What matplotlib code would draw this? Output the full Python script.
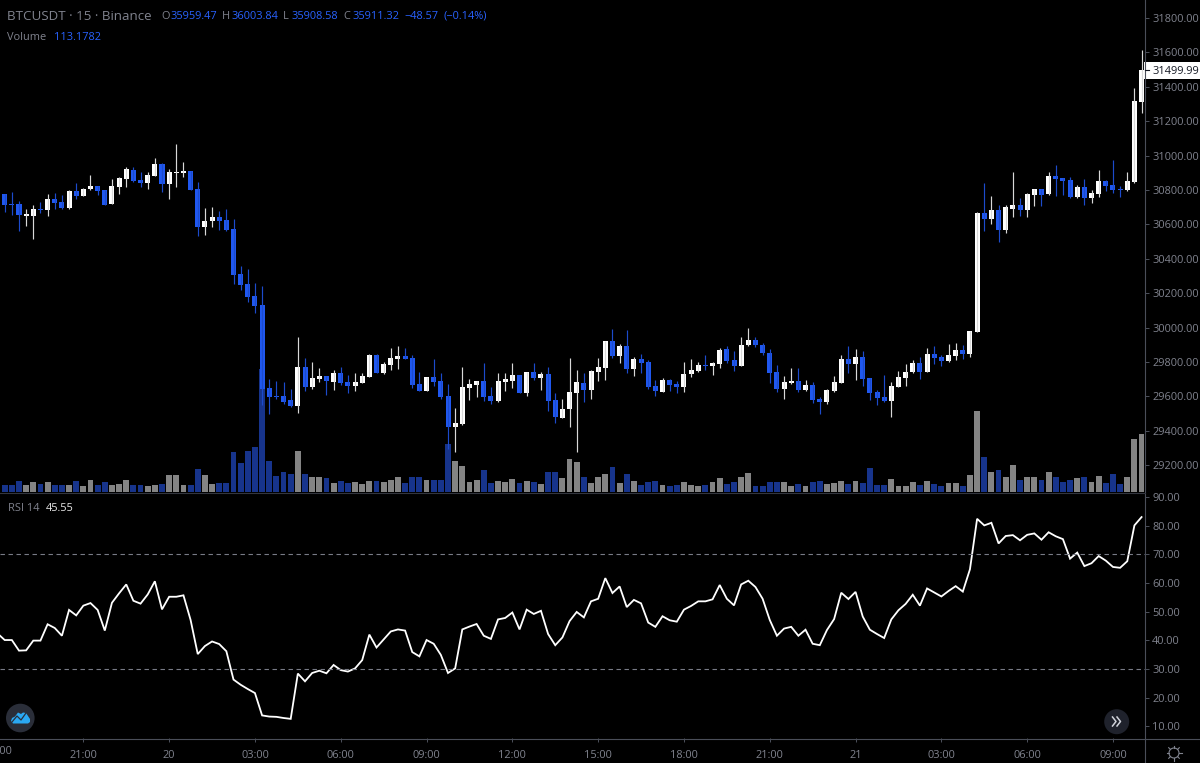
import numpy as np
import matplotlib

matplotlib.use("Agg")
import matplotlib.pyplot as plt
from matplotlib.patches import Circle, Polygon, Rectangle

W, H = 1200, 763
BG = "#000000"
AXIS = "#4a4e59"
TEXT = "#80838e"
BLUE = "#2058f0"
BLUE_TXT = "#2962ff"
VOL_BLUE = "#17348c"
VOL_GREY = "#848484"
plt.rcParams["font.family"] = ["Open Sans", "DejaVu Sans"]

# 15 minute bars
opens = [
    30777, 30720, 30719, 30649, 30651, 30690, 30684, 30746, 30730, 30693,
    30794, 30767, 30804, 30825, 30798, 30721, 30819, 30866, 30918, 30856,
    30841, 30883, 30951, 30835, 30897, 30899, 30909, 30804, 30585, 30620,
    30641, 30626, 30573, 30312, 30253, 30184, 30131, 29649, 29602, 29602,
    29577, 29544, 29771, 29655, 29703, 29719, 29686, 29734, 29682, 29660,
    29678, 29713, 29839, 29734, 29781, 29817, 29835, 29823, 29672, 29633,
    29713, 29688, 29602, 29420, 29440, 29651, 29666, 29688, 29602, 29571,
    29682, 29691, 29724, 29620, 29740, 29707, 29728, 29577, 29476, 29525,
    29620, 29676, 29639, 29744, 29765, 29922, 29835, 29891, 29759, 29817,
    29798, 29660, 29627, 29697, 29672, 29655, 29728, 29750, 29782, 29777,
    29786, 29876, 29812, 29777, 29897, 29928, 29901, 29854, 29740, 29645,
    29676, 29688, 29635, 29666, 29583, 29565, 29629, 29676, 29817, 29786,
    29829, 29707, 29624, 29596, 29571, 29655, 29707, 29740, 29796, 29744,
    29845, 29829, 29808, 29835, 29870, 29845, 29974, 30666, 30631, 30682,
    30569, 30689, 30713, 30684, 30773, 30804, 30777, 30881, 30868, 30856,
    30757, 30819, 30753, 30777, 30850, 30829, 30806, 30798, 30846, 31314,
]
closes = [
    30715, 30713, 30653, 30658, 30690, 30684, 30748, 30724, 30693, 30794,
    30767, 30808, 30823, 30792, 30713, 30825, 30872, 30920, 30850, 30841,
    30887, 30951, 30835, 30905, 30905, 30910, 30798, 30585, 30620, 30641,
    30620, 30567, 30306, 30248, 30180, 30128, 29643, 29597, 29597, 29567,
    29544, 29771, 29655, 29707, 29719, 29688, 29734, 29678, 29660, 29682,
    29719, 29839, 29734, 29786, 29823, 29835, 29817, 29666, 29633, 29713,
    29682, 29597, 29420, 29445, 29655, 29672, 29688, 29597, 29571, 29688,
    29699, 29724, 29620, 29740, 29707, 29728, 29571, 29482, 29529, 29624,
    29682, 29639, 29750, 29771, 29922, 29835, 29891, 29759, 29817, 29792,
    29655, 29629, 29697, 29666, 29655, 29728, 29753, 29782, 29777, 29792,
    29870, 29806, 29777, 29901, 29928, 29897, 29850, 29734, 29645, 29682,
    29688, 29635, 29666, 29577, 29567, 29635, 29682, 29817, 29786, 29829,
    29701, 29620, 29593, 29571, 29660, 29713, 29744, 29796, 29744, 29845,
    29823, 29808, 29839, 29870, 29845, 29980, 30668, 30631, 30682, 30569,
    30699, 30713, 30684, 30777, 30804, 30773, 30881, 30862, 30852, 30757,
    30817, 30753, 30783, 30850, 30825, 30798, 30798, 30850, 31317, 31500,
]
highs = [
    30777, 30786, 30736, 30690, 30715, 30728, 30777, 30783, 30771, 30798,
    30841, 30812, 30887, 30825, 30800, 30862, 30878, 30934, 30934, 30905,
    30905, 30988, 30955, 30920, 31067, 30963, 30910, 30847, 30693, 30699,
    30678, 30690, 30631, 30358, 30341, 30257, 30242, 29701, 29691, 29682,
    29645, 29945, 29823, 29802, 29765, 29719, 29753, 29769, 29724, 29734,
    29734, 29845, 29845, 29802, 29881, 29893, 29881, 29839, 29740, 29713,
    29817, 29734, 29672, 29531, 29771, 29703, 29691, 29792, 29655, 29734,
    29738, 29792, 29724, 29742, 29792, 29740, 29771, 29618, 29587, 29823,
    29753, 29738, 29753, 29823, 29924, 29992, 29903, 29986, 29827, 29845,
    29810, 29695, 29707, 29701, 29691, 29802, 29817, 29802, 29839, 29802,
    29881, 29891, 29864, 29943, 29996, 29943, 29908, 29876, 29781, 29719,
    29765, 29765, 29697, 29682, 29598, 29641, 29719, 29839, 29891, 29876,
    29864, 29707, 29635, 29724, 29682, 29750, 29786, 29812, 29827, 29881,
    29891, 29839, 29903, 29912, 29901, 29980, 30672, 30843, 30767, 30713,
    30713, 30903, 30752, 30781, 30808, 30804, 30903, 30945, 30872, 30876,
    30827, 30862, 30800, 30914, 30858, 30976, 30823, 30903, 31395, 31614,
]
lows = [
    30674, 30656, 30564, 30593, 30515, 30668, 30651, 30688, 30690, 30690,
    30748, 30767, 30800, 30773, 30711, 30719, 30777, 30819, 30848, 30819,
    30808, 30881, 30788, 30748, 30819, 30878, 30798, 30532, 30540, 30585,
    30567, 30564, 30253, 30221, 30149, 30087, 29550, 29498, 29583, 29556,
    29540, 29504, 29633, 29645, 29686, 29608, 29639, 29666, 29620, 29631,
    29676, 29713, 29734, 29730, 29753, 29759, 29817, 29651, 29629, 29633,
    29660, 29583, 29294, 29277, 29436, 29581, 29598, 29571, 29556, 29569,
    29633, 29649, 29618, 29602, 29697, 29637, 29515, 29445, 29476, 29424,
    29277, 29567, 29587, 29691, 29697, 29823, 29796, 29734, 29719, 29734,
    29645, 29602, 29624, 29631, 29618, 29627, 29713, 29740, 29753, 29724,
    29765, 29796, 29750, 29775, 29893, 29889, 29841, 29676, 29624, 29587,
    29672, 29624, 29631, 29562, 29498, 29556, 29624, 29676, 29734, 29697,
    29660, 29577, 29550, 29567, 29482, 29655, 29660, 29738, 29701, 29744,
    29786, 29777, 29802, 29812, 29817, 29829, 29974, 30563, 30600, 30496,
    30548, 30641, 30649, 30641, 30707, 30709, 30773, 30767, 30771, 30755,
    30755, 30715, 30726, 30761, 30796, 30784, 30757, 30796, 30843, 31250,
]
volume = [
    22, 22, 32, 20, 30, 25, 30, 22, 20, 20,
    32, 19, 35, 20, 30, 20, 23, 35, 20, 20,
    17, 20, 23, 52, 50, 20, 20, 68, 52, 25,
    28, 28, 119, 87, 122, 136, 370, 92, 47, 60,
    55, 122, 55, 44, 44, 41, 28, 32, 28, 31,
    23, 33, 33, 31, 36, 44, 28, 44, 44, 36,
    36, 36, 144, 92, 79, 31, 36, 65, 28, 33,
    31, 38, 28, 33, 30, 25, 60, 60, 41, 98,
    89, 44, 28, 44, 55, 76, 28, 55, 33, 22,
    30, 33, 22, 19, 22, 30, 22, 19, 22, 30,
    41, 25, 30, 46, 57, 19, 19, 30, 30, 30,
    19, 25, 17, 30, 33, 25, 28, 33, 25, 33,
    28, 71, 22, 22, 38, 19, 17, 30, 22, 33,
    25, 17, 28, 28, 17, 52, 244, 106, 60, 65,
    46, 82, 35, 46, 46, 35, 60, 44, 30, 35,
    41, 46, 30, 49, 28, 55, 25, 44, 158, 173,
]
# first value belongs to the bar just left of the visible range
rsi = [
    42.4,
    40.1, 40.1, 36.4, 36.5, 39.9, 39.9, 45.6, 44.3, 41.6, 50.6,
    48.7, 52.1, 53.0, 50.6, 43.4, 53.1, 56.4, 59.5, 53.8, 52.8,
    56.0, 60.6, 50.8, 55.2, 55.2, 55.7, 47.1, 35.2, 38.0, 39.6,
    38.7, 36.2, 26.3, 24.5, 23.0, 21.6, 13.8, 13.4, 13.3, 12.9,
    12.6, 28.4, 25.7, 28.6, 29.4, 28.5, 31.4, 29.6, 29.1, 30.2,
    33.1, 42.0, 37.5, 40.3, 43.1, 43.8, 43.4, 35.9, 34.4, 40.1,
    38.8, 34.9, 28.6, 30.2, 43.8, 44.8, 45.7, 41.6, 40.5, 47.3,
    47.8, 49.7, 43.8, 50.7, 49.2, 50.3, 42.2, 38.3, 41.0, 46.7,
    49.9, 48.0, 53.6, 54.5, 61.7, 56.5, 58.8, 51.6, 54.1, 52.9,
    46.2, 44.7, 48.4, 47.0, 46.5, 50.7, 52.0, 53.6, 53.6, 54.3,
    59.3, 54.5, 52.2, 59.5, 60.8, 58.6, 54.5, 47.1, 41.6, 44.1,
    44.7, 41.6, 43.7, 38.8, 38.3, 43.6, 47.4, 56.6, 54.4, 56.9,
    48.3, 43.7, 42.2, 40.8, 47.3, 50.5, 52.7, 55.9, 52.1, 58.1,
    56.7, 55.3, 57.2, 58.9, 57.0, 64.8, 82.4, 80.1, 81.0, 73.8,
    76.4, 76.7, 74.9, 76.8, 77.3, 75.1, 77.7, 76.3, 75.3, 68.5,
    70.6, 65.9, 66.9, 69.4, 67.8, 65.6, 65.3, 67.6, 80.1, 83.0,
]
price_ticks = [29200, 29400, 29600, 29800, 30000, 30200, 30400, 30600, 30800,
               31000, 31200, 31400, 31600, 31800]
rsi_ticks = [10, 20, 30, 40, 50, 60, 70, 80, 90]
time_labels = ["18:00", "21:00", "20", "03:00", "06:00", "09:00", "12:00",
               "15:00", "18:00", "21:00", "21", "03:00", "06:00", "09:00"]
last_price = 31499.99


def pane(top, bottom):
    return [0, (H - bottom) / H, 1145 / W, (bottom - top) / H]


fig = plt.figure(figsize=(W / 100, H / 100), dpi=100, facecolor=BG)
ax_vol = fig.add_axes(pane(0, 492), facecolor=BG)
ax = fig.add_axes(pane(0, 492), facecolor="none")
ax_rsi = fig.add_axes(pane(493, 738), facecolor=BG)

o, c, hi, lo = map(np.array, (opens, closes, highs, lows))
x = np.arange(len(o))
up = c >= o
xlim = (-0.657, 159.48)

# -- volume ------------------------------------------------------------------
ax_vol.bar(x, volume, width=0.82, color=np.where(up, VOL_GREY, VOL_BLUE), linewidth=0)
ax_vol.set_xlim(xlim)
ax_vol.set_ylim(0, 1476)
ax_vol.set_axis_off()

# -- candles -----------------------------------------------------------------
colors = np.where(up, "#ffffff", BLUE)
wick_colors = np.where(up, "#d8d8d8", "#1c4bcc")
ax.vlines(x, lo, hi, colors=wick_colors, linewidth=0.85)
ax.bar(x, np.maximum(np.abs(c - o), 5), bottom=np.minimum(o, c), width=0.7,
       color=colors, linewidth=0)
ax.set_xlim(xlim)
ax.set_ylim(29044, 31904.7)
ax.yaxis.tick_right()
ax.set_yticks(price_ticks, [f"{v:.2f}" for v in price_ticks])
ax.set_xticks([])
ax.tick_params(axis="y", colors=AXIS, labelcolor=TEXT, labelsize=7.9, length=3, width=0.72, pad=2.2)
for s in ax.spines.values():
    s.set_visible(False)

# -- rsi ---------------------------------------------------------------------
x_rsi = np.arange(-1, len(o))
ax_rsi.plot(x_rsi, rsi, color="#ffffff", linewidth=1.3, solid_joinstyle="miter")
for level in (70, 30):
    ax_rsi.axhline(level, color="#787b86", linewidth=0.8, dashes=(4, 3.2))
ax_rsi.set_xlim(xlim)
ax_rsi.set_ylim(5.92, 91.4)
ax_rsi.yaxis.tick_right()
ax_rsi.set_yticks(rsi_ticks, [f"{v:.2f}" for v in rsi_ticks])
tick_x = -1 + 12 * np.arange(len(time_labels))
ax_rsi.set_xticks(tick_x[1:], time_labels[1:])
ax_rsi.tick_params(axis="y", colors=AXIS, labelcolor=TEXT, labelsize=7.9, length=3, width=0.72, pad=2.2)
ax_rsi.tick_params(axis="x", colors=AXIS, labelcolor=TEXT, labelsize=7.9, length=3, width=0.72, pad=5.5)
for s in ax_rsi.spines.values():
    s.set_visible(False)
# the first label sits mostly off the left edge, as in the original
ax_rsi.text(tick_x[0], 3.0, time_labels[0], color=TEXT, fontsize=7.9, ha="center", va="top",
            clip_on=False)

# -- overlay drawn in pixel coordinates: frame, legends, buttons -------------
ov = fig.add_axes([0, 0, 1, 1], facecolor="none")
ov.set_xlim(0, W)
ov.set_ylim(H, 0)
ov.set_axis_off()
ov.plot([1144.5, 1144.5], [0, H], color=AXIS, lw=0.8)
ov.plot([0, W], [738.5, 738.5], color=AXIS, lw=0.8)
ov.plot([0, 1145], [492.8, 492.8], color="#33363f", lw=0.8)

ov.add_patch(Rectangle((1144, 62), 56, 16.5, facecolor="#ffffff", edgecolor="none"))
ov.plot([1145, 1149], [70, 70], color="#131722", lw=0.8)
ov.text(1152, 70, f"{last_price:.2f}", color="#131722", fontsize=7.9, va="center_baseline")

ov.text(7, 15, "BTCUSDT · 15 · Binance", color=TEXT, fontsize=9.6, va="center_baseline")
for xp, letter, xv, val in [(161, "O", 170, "35959.47"), (222, "H", 231, "36003.84"),
                            (283, "L", 291, "35908.58"), (343, "C", 352, "35911.32")]:
    ov.text(xp, 15, letter, color=TEXT, fontsize=7.9, va="center_baseline")
    ov.text(xv, 15, val, color=BLUE_TXT, fontsize=7.9, va="center_baseline")
ov.text(404, 15, "\u221248.57", color=BLUE_TXT, fontsize=7.9, va="center_baseline")
ov.text(443, 15, "(\u22120.14%)", color=BLUE_TXT, fontsize=7.9, va="center_baseline")
ov.text(7, 36, "Volume", color=TEXT, fontsize=7.9, va="center_baseline")
ov.text(54, 36, "113.1782", color=BLUE_TXT, fontsize=7.9, va="center_baseline")
ov.text(7.5, 507, "RSI 14", color=TEXT, fontsize=7.9, va="center_baseline")
ov.text(46, 507, "45.55", color="#e8e8e8", fontsize=7.9, va="center_baseline")

# logo
ov.add_patch(Circle((20.3, 718), 14.3, facecolor="#2a2e39", edgecolor="none"))
ov.add_patch(Polygon([(11, 721), (12, 718), (15, 716.5), (18, 712.5), (21, 714), (23, 712.5),
                      (26, 713), (28, 716), (30, 719), (30, 722), (28, 723.5), (13, 723.5)],
                     closed=True, facecolor="#2aa8f2", edgecolor="none"))
ov.plot([12, 17, 21, 26], [722, 716, 720, 713], color="#2a2e39", lw=0.9)

# scroll-to-latest button
ov.add_patch(Circle((1116.7, 721.7), 12.5, facecolor="#1f222c", edgecolor="none"))
for dx in (0, 4.5):
    ov.plot(np.array([1112.5, 1116, 1112.5]) + dx, [717, 721.5, 726], color="#d1d4dc", lw=1.1)

# settings sun
ov.add_patch(Circle((1174, 753), 5, facecolor="none", edgecolor=TEXT, lw=0.8))
for a in np.deg2rad(np.arange(0, 360, 45)):
    ov.plot([1174 + 5 * np.cos(a), 1174 + 7.5 * np.cos(a)],
            [753 + 5 * np.sin(a), 753 + 7.5 * np.sin(a)], color=TEXT, lw=0.8)

fig.savefig("out.png", dpi=100, facecolor=BG)
